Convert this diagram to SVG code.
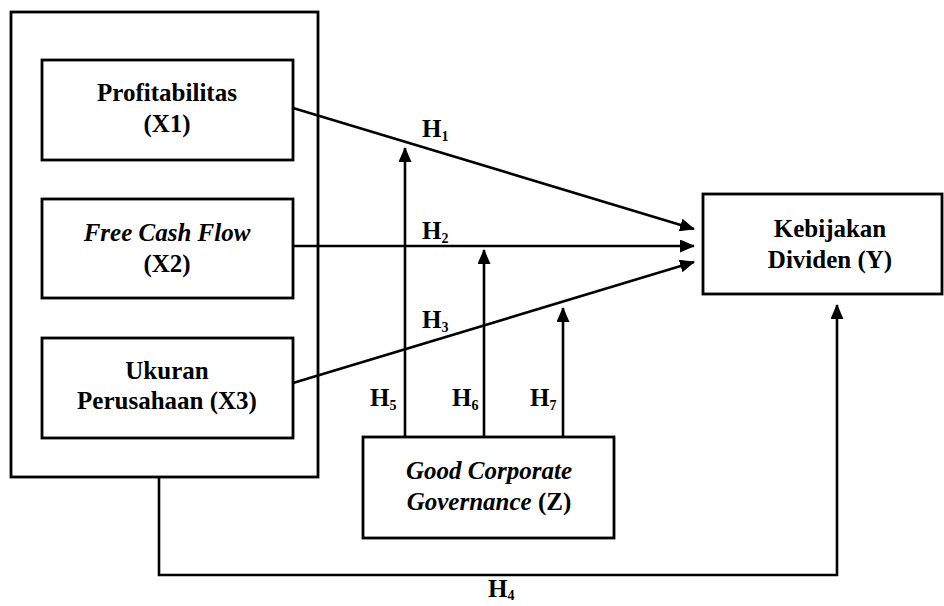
<svg xmlns="http://www.w3.org/2000/svg" width="944" height="606" viewBox="0 0 944 606">
<defs>
<marker id="ah" markerUnits="userSpaceOnUse" markerWidth="16" markerHeight="14" refX="14" refY="6.5" orient="auto">
<path d="M0,0 L15,6.5 L0,13 z" fill="#000"/>
</marker>
<style>
.box{fill:#fff;stroke:#000;stroke-width:2.8}
.t{font-family:'Liberation Serif','Times New Roman','DejaVu Serif',serif;font-weight:bold;font-size:25px;fill:#000;text-anchor:middle}
.i{font-style:italic}
.h{font-family:'Liberation Serif','Times New Roman','DejaVu Serif',serif;font-weight:bold;font-size:25px;fill:#000}
.s{font-size:14px}
.c{fill:none;stroke:#000;stroke-width:2.6}
</style>
</defs>
<rect width="944" height="606" fill="#fff"/>
<g id="outer"><rect class="box" x="11" y="12" width="307" height="465" fill="none"/></g>
<g id="x1"><rect class="box" x="42" y="60" width="251" height="100"/>
<text class="t" x="167" y="101">Profitabilitas</text>
<text class="t" x="167" y="132">(X1)</text></g>
<g id="x2"><rect class="box" x="42" y="199" width="251" height="99"/>
<text class="t i" x="167" y="241">Free Cash Flow</text>
<text class="t" x="167" y="272">(X2)</text></g>
<g id="x3"><rect class="box" x="42" y="338" width="251" height="100"/>
<text class="t" x="167" y="379">Ukuran</text>
<text class="t" x="167" y="409">Perusahaan (X3)</text></g>
<g id="y"><rect class="box" x="703" y="194" width="239" height="100"/>
<text class="t" x="830" y="237">Kebijakan</text>
<text class="t" x="830" y="268">Dividen (Y)</text></g>
<g id="z"><rect class="box" x="363" y="437" width="251" height="101"/>
<text class="t i" x="489" y="479">Good Corporate</text>
<text class="t" x="489" y="510"><tspan class="i">Governance</tspan> (Z)</text></g>
<g id="connectors">
<line class="c" x1="293" y1="108" x2="694" y2="229" marker-end="url(#ah)"/>
<line class="c" x1="293" y1="246" x2="694" y2="246" marker-end="url(#ah)"/>
<line class="c" x1="293" y1="383" x2="694" y2="262" marker-end="url(#ah)"/>
<line class="c" x1="405" y1="437" x2="405" y2="148" marker-end="url(#ah)"/>
<line class="c" x1="484" y1="437" x2="484" y2="250" marker-end="url(#ah)"/>
<line class="c" x1="563" y1="437" x2="563" y2="308" marker-end="url(#ah)"/>
<polyline class="c" points="159,477 159,575 837,575 837,305" marker-end="url(#ah)"/>
</g>
<g id="labels">
<text class="h" x="422" y="137">H<tspan class="s" dy="4">1</tspan></text>
<text class="h" x="422" y="239">H<tspan class="s" dy="4">2</tspan></text>
<text class="h" x="422" y="328">H<tspan class="s" dy="4">3</tspan></text>
<text class="h" x="370" y="406">H<tspan class="s" dy="4">5</tspan></text>
<text class="h" x="452" y="406">H<tspan class="s" dy="4">6</tspan></text>
<text class="h" x="530" y="406">H<tspan class="s" dy="4">7</tspan></text>
<text class="h" x="488" y="597">H<tspan class="s" dy="3">4</tspan></text>
</g>
</svg>
